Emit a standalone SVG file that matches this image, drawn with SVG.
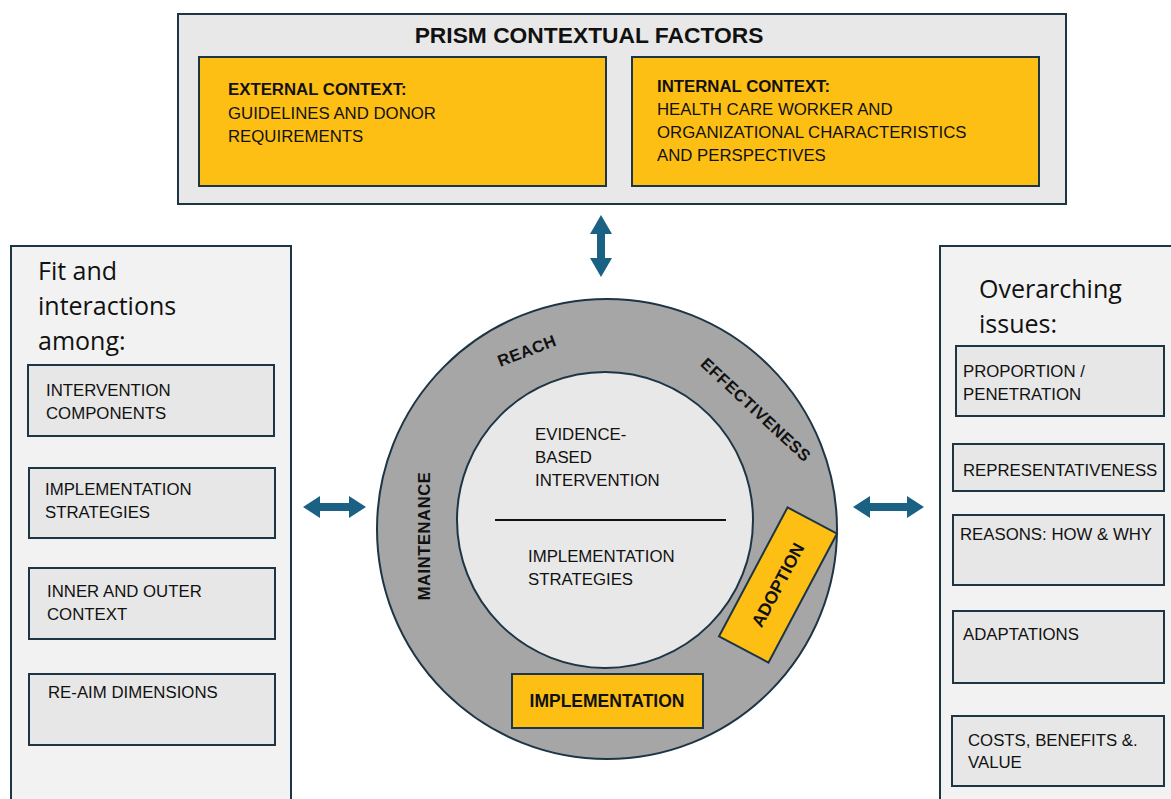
<svg xmlns="http://www.w3.org/2000/svg" width="1171" height="799" viewBox="0 0 1171 799">
<style>
text{font-family:"Liberation Sans",Arial,sans-serif;fill:#111;}
.box{stroke:#1d3544;stroke-width:2;}
.gold{fill:#fdbf14;}
.panel{fill:#f2f2f2;}
.sub{fill:#e7e7e7;}
.t16{font-size:16.8px;}
.b{font-weight:bold;}
.big{font-family:"Open Sans","Liberation Sans",sans-serif;font-size:25px;}
.arrow{fill:#1a6184;}
.ring{font-weight:bold;font-size:16.5px;letter-spacing:0.6px;}
</style>
<rect width="1171" height="799" fill="#ffffff"/>
<g id="prism">
<rect class="box" x="178" y="14" width="888" height="190" fill="#e8e8e8"/>
<text x="589" y="43" font-size="22.8" font-weight="bold" text-anchor="middle">PRISM CONTEXTUAL FACTORS</text>
</g>
<g id="external">
<rect class="box gold" x="199" y="57" width="407" height="129"/>
<text class="t16 b" x="228" y="95">EXTERNAL CONTEXT:</text>
<text class="t16" x="228" y="119">GUIDELINES AND DONOR</text>
<text class="t16" x="228" y="142">REQUIREMENTS</text>
</g>
<g id="internal">
<rect class="box gold" x="632" y="57" width="407" height="129"/>
<text class="t16 b" x="657" y="92">INTERNAL CONTEXT:</text>
<text class="t16" x="657" y="115">HEALTH CARE WORKER AND</text>
<text class="t16" x="657" y="138">ORGANIZATIONAL CHARACTERISTICS</text>
<text class="t16" x="657" y="161">AND PERSPECTIVES</text>
</g>
<g id="left-panel">
<rect class="box panel" x="11" y="246" width="280" height="560"/>
<text class="big" x="38" y="280">Fit and</text>
<text class="big" x="38" y="315">interactions</text>
<text class="big" x="38" y="350">among:</text>
</g>
<g id="intervention-components">
<rect class="box sub" x="28" y="365" width="246" height="71"/>
<text class="t16" x="46" y="396">INTERVENTION</text>
<text class="t16" x="46" y="419">COMPONENTS</text>
</g>
<g id="implementation-strategies">
<rect class="box sub" x="29" y="468" width="246" height="70"/>
<text class="t16" x="45" y="495">IMPLEMENTATION</text>
<text class="t16" x="45" y="518">STRATEGIES</text>
</g>
<g id="inner-outer">
<rect class="box sub" x="29" y="568" width="246" height="71"/>
<text class="t16" x="47" y="597">INNER AND OUTER</text>
<text class="t16" x="47" y="620">CONTEXT</text>
</g>
<g id="re-aim">
<rect class="box sub" x="29" y="674" width="246" height="71"/>
<text class="t16" x="48" y="698">RE-AIM DIMENSIONS</text>
</g>
<g id="right-panel">
<rect class="box panel" x="940" y="246" width="240" height="560"/>
<text class="big" x="979" y="298">Overarching</text>
<text class="big" x="979" y="333">issues:</text>
</g>
<g id="proportion">
<rect class="box sub" x="956" y="346" width="208" height="70"/>
<text class="t16" x="963" y="377">PROPORTION /</text>
<text class="t16" x="963" y="400">PENETRATION</text>
</g>
<g id="representativeness">
<rect class="box sub" x="953" y="444" width="211" height="47"/>
<text class="t16" x="963" y="476">REPRESENTATIVENESS</text>
</g>
<g id="reasons">
<rect class="box sub" x="953" y="515" width="211" height="70"/>
<text class="t16" x="960" y="540">REASONS: HOW &amp; WHY</text>
</g>
<g id="adaptations">
<rect class="box sub" x="953" y="611" width="211" height="72"/>
<text class="t16" x="963" y="640">ADAPTATIONS</text>
</g>
<g id="costs">
<rect class="box sub" x="952" y="716" width="212" height="70"/>
<text class="t16" x="968" y="746">COSTS, BENEFITS &amp;.</text>
<text class="t16" x="968" y="768">VALUE</text>
</g>
<g id="re-aim-wheel">
<circle class="box" cx="607" cy="529" r="230" fill="#a6a6a6"/>
<circle class="box" cx="605" cy="520" r="148" fill="#e8e8e8"/>
<line x1="495" y1="520" x2="726" y2="520" stroke="#111" stroke-width="2"/>
<text class="t16" x="535" y="440">EVIDENCE-</text>
<text class="t16" x="535" y="463">BASED</text>
<text class="t16" x="535" y="486">INTERVENTION</text>
<text class="t16" x="528" y="562">IMPLEMENTATION</text>
<text class="t16" x="528" y="585">STRATEGIES</text>
<text class="ring" text-anchor="middle" transform="translate(529,356) rotate(-21)">REACH</text>
<text class="ring" text-anchor="middle" transform="translate(752,414) rotate(43)">EFFECTIVENESS</text>
<text class="ring" text-anchor="middle" transform="translate(430,536) rotate(-90)">MAINTENANCE</text>
</g>
<g id="adoption">
<rect class="box gold" x="-73" y="-28" width="146" height="56" transform="translate(778,585) rotate(-62)"/>
<text class="b" font-size="17.5" text-anchor="middle" transform="translate(778,585) rotate(-62) translate(0,6)">ADOPTION</text>
</g>
<g id="implementation">
<rect class="box gold" x="512" y="674" width="191" height="54"/>
<text class="b" font-size="17.5" x="607" y="707" text-anchor="middle">IMPLEMENTATION</text>
</g>
<g id="connectors">
<polygon class="arrow" points="601,215 612,234 605,234 605,258 612,258 601,277 590,258 597,258 597,234 590,234"/>
<polygon class="arrow" points="303,507 320,496 320,503 349,503 349,496 366,507 349,518 349,511 320,511 320,518"/>
<polygon class="arrow" points="853,507 870,496 870,503 907,503 907,496 924,507 907,518 907,511 870,511 870,518"/>
</g>
</svg>
